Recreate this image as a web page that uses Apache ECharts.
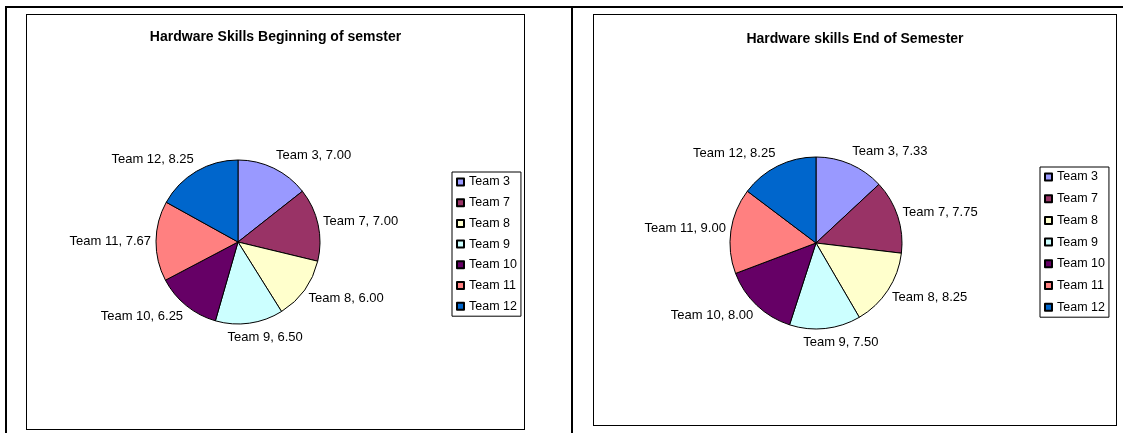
<!DOCTYPE html>
<html>
<head>
<meta charset="utf-8">
<script src="https://cdn.jsdelivr.net/npm/echarts@6/dist/echarts.min.js"></script>
<style>
  body { margin: 0; background: #fff; }
  .line { position: absolute; background: #000; }
  .box { position: absolute; box-sizing: border-box; border: 1px solid #000; background: #fff; }
</style>
</head>
<body>
<div class="line" style="left:5px;top:6px;width:1118px;height:2px"></div>
<div class="line" style="left:5px;top:6px;width:2px;height:427px"></div>
<div class="line" style="left:571px;top:6px;width:2px;height:427px"></div>
<div id="before" class="box" style="left:26px;top:14px;width:499px;height:416px"></div>
<div id="after" class="box" style="left:593px;top:14px;width:524px;height:412px"></div>
<script>
const teams = ['Team 3', 'Team 7', 'Team 8', 'Team 9', 'Team 10', 'Team 11', 'Team 12']
const beginScores = [7.00, 7.00, 6.00, 6.50, 6.25, 7.67, 8.25]
const endScores = [7.33, 7.75, 8.25, 7.50, 8.00, 9.00, 8.25]
const sliceColors = ['#9999ff', '#993366', '#ffffcc', '#ccffff', '#660066', '#ff8080', '#0066cc']

const font = 'Liberation Sans, Arial, sans-serif'

// one pie per box, Excel 2003 look
function drawPie(el, title, values, opts) {
  const chart = echarts.init(el)
  const [cx, cy] = opts.center
  chart.setOption({
    animation: false,
    color: sliceColors,
    title: {
      text: title,
      left: 'center',
      top: opts.titleTop,
      textStyle: { fontFamily: font, fontSize: 14, fontWeight: 'bold', color: '#000' }
    },
    legend: {
      orient: 'vertical',
      left: opts.legendLeft,
      top: opts.legendTop,
      data: teams,
      icon: 'rect',
      itemWidth: 7,
      itemHeight: 7,
      itemGap: opts.legendGap,
      padding: [3, 4, 3, 4],
      borderColor: '#000',
      borderWidth: 1,
      selectedMode: false,
      textStyle: { fontFamily: font, fontSize: 12.5, color: '#000', lineHeight: 14 }
    },
    series: [
      {
        type: 'pie',
        center: opts.center,
        radius: opts.radius,
        startAngle: 90,
        clockwise: true,
        avoidLabelOverlap: false,
        itemStyle: { borderColor: '#000', borderWidth: 1 },
        label: {
          show: true,
          position: 'outside',
          distanceToLabelLine: 0,
          fontFamily: font,
          fontSize: 13,
          color: '#000',
          formatter: p => p.name + ', ' + p.value.toFixed(2)
        },
        labelLine: { show: false, length: 5, length2: 0 },
        // push labels away like Excel does: up on top, down at the bottom
        labelLayout: p => {
          const r = p.labelRect
          const isLeft = p.align !== 'right'
          const ax = isLeft ? r.x : r.x + r.width
          const ay = r.y + r.height / 2
          const d = Math.hypot(ax - cx, ay - cy)
          const cos = -(ay - cy) / d
          const sin = (ax - cx) / d
          let dx = 0
          if (Math.abs(sin) < 0.35) dx = (isLeft ? -1 : 1) * r.width * 0.3
          return { dx: dx, dy: -cos * 9 }
        },
        emphasis: { disabled: true },
        data: teams.map((t, i) => ({ name: t, value: values[i] }))
      }
    ]
  })
}

drawPie(document.getElementById('before'), 'Hardware Skills Beginning of semster', beginScores, {
  titleTop: 10, legendLeft: 425, legendTop: 157, legendGap: 6.7, center: [211, 227], radius: 82
})
drawPie(document.getElementById('after'), 'Hardware skills End of Semester', endScores, {
  titleTop: 12, legendLeft: 446, legendTop: 152, legendGap: 7.7, center: [222, 228], radius: 86
})
</script>
</body>
</html>
